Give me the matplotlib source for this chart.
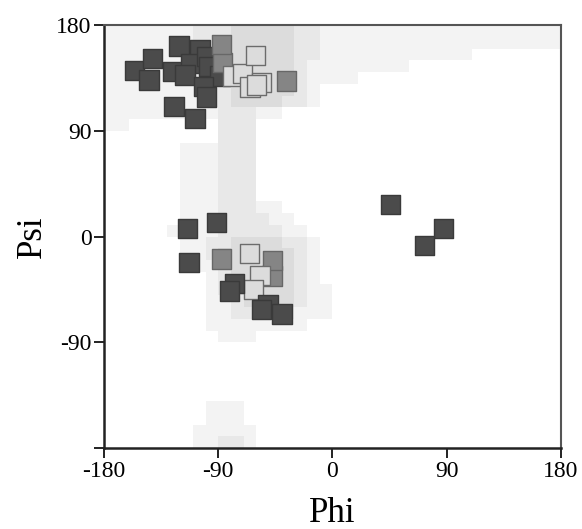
import matplotlib
matplotlib.use("Agg")
import matplotlib.pyplot as plt
from matplotlib.colors import ListedColormap
import numpy as np

# Background population of the Ramachandran map, 10-degree bins.
# Rows run from psi = 180 (top) down to psi = -180; columns from phi = -180 to 180.
# Digits are density levels 0 (empty) .. 3 (most populated).
density_rows = [
    "1111111" "222" "33333" "22" "1" "111111111111111111",
    "1111111" "222" "33333" "22" "1" "111111111111111111",
    "1111111" "222" "33333" "22" "1" "11111111111" "0000000",
    "1111111" "222" "33333" "2" "11" "111111" "000000000000",
    "1111111" "222" "33333" "2" "1111" "0000000000000000",
    "11111111" "22" "33333" "2" "1" "0000000000000000000",
    "11111111" "22" "3333" "22" "1" "0000000000000000000",
    "111111111" "222" "11" "0000000000000000000000",
    "11" "0000000" "222" "000000000000000000000000",
    "000000000" "222" "000000000000000000000000",
    "000000" "111" "222" "000000000000000000000000",
    "000000" "111" "222" "000000000000000000000000",
    "000000" "111" "222" "000000000000000000000000",
    "000000" "111" "222" "000000000000000000000000",
    "000000" "111" "222" "000000000000000000000000",
    "000000" "111" "222" "11" "0000000000000000000000",
    "000000" "111" "2222" "11" "000000000000000000000",
    "00000" "1111" "22222" "11" "00000000000000000000",
    "000000" "11" "22" "3333" "22" "1" "0000000000000000000",
    "000000" "11" "2" "333333" "2" "1" "0000000000000000000",
    "0000000" "11" "2" "33333" "2" "1" "0000000000000000000",
    "00000000" "1" "2" "33333" "2" "1" "0000000000000000000",
    "00000000" "1" "2" "33333" "2" "11" "000000000000000000",
    "00000000" "11" "2" "3333" "2" "11" "000000000000000000",
    "00000000" "11" "22222" "111" "000000000000000000",
    "00000000" "11111111" "00000000000000000000",
    "000000000" "111" "000000000000000000000000",
    "000000000000000000000000000000000000",
    "000000000000000000000000000000000000",
    "000000000000000000000000000000000000",
    "000000000000000000000000000000000000",
    "000000000000000000000000000000000000",
    "00000000" "111" "0000000000000000000000000",
    "00000000" "111" "0000000000000000000000000",
    "0000000" "11111" "000000000000000000000000",
    "0000000" "11" "22" "1" "000000000000000000000000",
]
density_colors = ["#ffffff", "#f3f3f3", "#e8e8e8", "#dcdcdc"]

# Residue backbone angles (phi, psi) and their shading class:
# D = dark, M = medium, L = light.  Listed in drawing order.
phi = [
    -155.8, -142.0, -144.6, -120.9, -125.6, -104.4, -111.7, -116.2,
    -99.1, -97.3, -88.6, -101.5, -99.1, -124.9, -108.3,
    -86.8, -87.6, -36.1,
    -78.4, -70.7, -60.5, -55.8, -65.0, -60.0,
    -47.7, -47.4, -87.6,
    -65.5, -57.1, -62.4,
    -114.4, -91.2, -113.0, -77.1, -81.0, -50.8, -55.8, -39.8,
    45.5, 87.5, 72.3,
]
psi = [
    141.1, 151.3, 133.2, 162.1, 140.3, 158.7, 147.4, 137.4,
    153.0, 144.5, 136.6, 127.5, 118.7, 110.5, 100.6,
    148.0, 163.2, 132.3,
    136.6, 138.9, 154.2, 131.0, 127.2, 128.9,
    -33.6, -20.3, -19.1,
    -14.6, -33.4, -44.9,
    7.0, 12.1, -22.3, -39.8, -46.4, -58.3, -62.3, -66.0,
    27.4, 6.6, -7.5,
]
shade = (
    "DDDDDDDDDDDDDDD"
    "MMM"
    "LLLLLL"
    "MMM"
    "LLL"
    "DDDDDDDD"
    "DDD"
)

x_ticks = [-180, -90, 0, 90, 180]
x_tick_labels = ["-180", "-90", "0", "90", "180"]
y_ticks = [-180, -90, 0, 90, 180]
y_tick_labels = ["", "-90", "0", "90", "180"]

fill = {"D": "#4b4b4b", "M": "#858585", "L": "#dcdcdc"}
edge = {"D": "#3a3a3a", "M": "#676767", "L": "#6c6c6c"}

plt.rcParams["font.family"] = ["Liberation Serif", "DejaVu Serif"]

fig = plt.figure(figsize=(5.82, 5.29), dpi=100)
ax = fig.add_axes([0.1787, 0.1531, 0.7852, 0.7996])

grid = np.array([[int(c) for c in row] for row in density_rows])
assert grid.shape == (36, 36)
phi_edges = np.linspace(-180, 180, 37)
psi_edges = np.linspace(180, -180, 37)
ax.pcolormesh(phi_edges, psi_edges, grid,
              cmap=ListedColormap(density_colors), vmin=-0.5, vmax=3.5,
              shading="flat", zorder=0)

ax.scatter(phi, psi, s=195, marker="s",
           c=[fill[k] for k in shade],
           edgecolors=[edge[k] for k in shade],
           linewidths=1.0, zorder=2)

ax.set_xlim(-180, 180)
ax.set_ylim(-180, 180)
ax.set_xticks(x_ticks)
ax.set_xticklabels(x_tick_labels)
ax.set_yticks(y_ticks)
ax.set_yticklabels(y_tick_labels)
ax.tick_params(direction="out", length=7, width=1.4, labelsize=17,
               color="#222222", pad=2)

for side in ("left", "bottom"):
    ax.spines[side].set_linewidth(1.8)
    ax.spines[side].set_color("#222222")
for side in ("top", "right"):
    ax.spines[side].set_linewidth(1.5)
    ax.spines[side].set_color("#555555")

ax.set_xlabel("Phi", fontsize=25, labelpad=11)
ax.set_ylabel("Psi", fontsize=25, labelpad=5)

fig.savefig("out.png", dpi=100)
